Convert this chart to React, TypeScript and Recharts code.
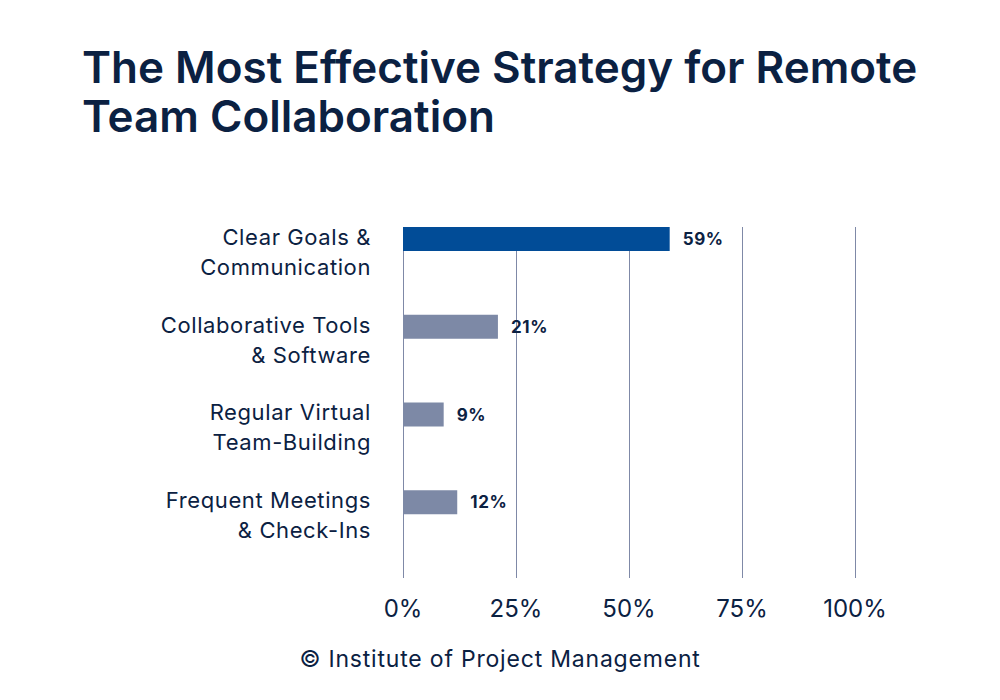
import React from 'react';
import { BarChart, Bar, XAxis, YAxis, CartesianGrid, LabelList } from 'recharts';

const strategies = [
  'Clear Goals & Communication',
  'Collaborative Tools & Software',
  'Regular Virtual Team-Building',
  'Frequent Meetings & Check-Ins',
];
const strategyLines = [
  ['Clear Goals &', 'Communication'],
  ['Collaborative Tools', '& Software'],
  ['Regular Virtual', 'Team-Building'],
  ['Frequent Meetings', '& Check-Ins'],
];
const shares = [59, 21, 9, 12];
const xTicks = [0, 25, 50, 75, 100];

const INK = '#0b2142';
const FONT = 'Inter, "Noto Sans", sans-serif';
const BAR_SIZE = 24;
const BAR_SHIFT = 32; // bars sit near the top of each row

const chartData = strategies.map((name, i) => ({ name, share: shares[i] }));

const CategoryTick = (props: any) => {
  const { x, y, payload } = props;
  const lines = strategyLines[payload.index] ?? [payload.value];
  const tx = x - 24;
  return (
    <text x={tx} y={y - 26} textAnchor="end" fill={INK} fontSize={22} letterSpacing={0.6} fontFamily={FONT}>
      {lines.map((l: string, i: number) => (
        <tspan key={i} x={tx} dy={i === 0 ? 0 : 30}>
          {l}
        </tspan>
      ))}
    </text>
  );
};

const ShiftedBar = (props: any) => {
  const { x, y, width, height, fill } = props;
  return <rect x={x} y={y - BAR_SHIFT} width={width} height={height} fill={fill} />;
};

const ValueLabel = (props: any) => {
  const { x, y, width, height, value } = props;
  return (
    <text
      x={x + width + 13}
      y={y + height / 2 - BAR_SHIFT}
      dominantBaseline="central"
      fill={INK}
      fontSize={17}
      fontWeight={700}
      letterSpacing={0.6}
      fontFamily={FONT}
    >
      {value}%
    </text>
  );
};

export default function App() {
  return (
    <div style={{ position: 'absolute', left: 0, top: 0, width: 1000, height: 700, background: '#fff' }}>
      <svg width={1000} height={700} style={{ position: 'absolute', left: 0, top: 0 }}>
        <text x={82} y={83} fill={INK} fontSize={44} fontWeight={600} fontFamily={FONT}>
          The Most Effective Strategy for Remote
        </text>
        <text x={82} y={132} fill={INK} fontSize={44} fontWeight={600} fontFamily={FONT}>
          Team Collaboration
        </text>
        <text x={500} y={667} textAnchor="middle" fill={INK} fontSize={23} letterSpacing={0.8} fontFamily={FONT}>
          © Institute of Project Management
        </text>
      </svg>
      <div style={{ position: 'absolute', left: 0, top: 0 }}>
        <BarChart
          width={1000}
          height={700}
          data={chartData}
          layout="vertical"
          margin={{ top: 227, right: 145, left: 0, bottom: 82 }}
          barSize={BAR_SIZE}
        >
          <CartesianGrid horizontal={false} stroke="#7f89a7" strokeOpacity={1} strokeWidth={1} shapeRendering="crispEdges" />
          <XAxis
            type="number"
            domain={[0, 100]}
            ticks={xTicks}
            tickFormatter={(v) => `${v}%`}
            axisLine={false}
            tickLine={false}
            tickSize={0}
            tickMargin={22}
            height={40}
            tick={{ fill: INK, fontSize: 24, fontFamily: FONT }}
            interval={0}
          />
          <YAxis
            type="category"
            dataKey="name"
            width={403}
            axisLine={false}
            tickLine={false}
            tick={<CategoryTick />}
            interval={0}
          />
          <Bar dataKey="share" isAnimationActive={false} shape={(p: any) => (
            <ShiftedBar {...p} fill={p.index === 0 ? '#014c97' : '#7d89a6'} />
          )}>
            <LabelList dataKey="share" content={<ValueLabel />} />
          </Bar>
        </BarChart>
      </div>
    </div>
  );
}
